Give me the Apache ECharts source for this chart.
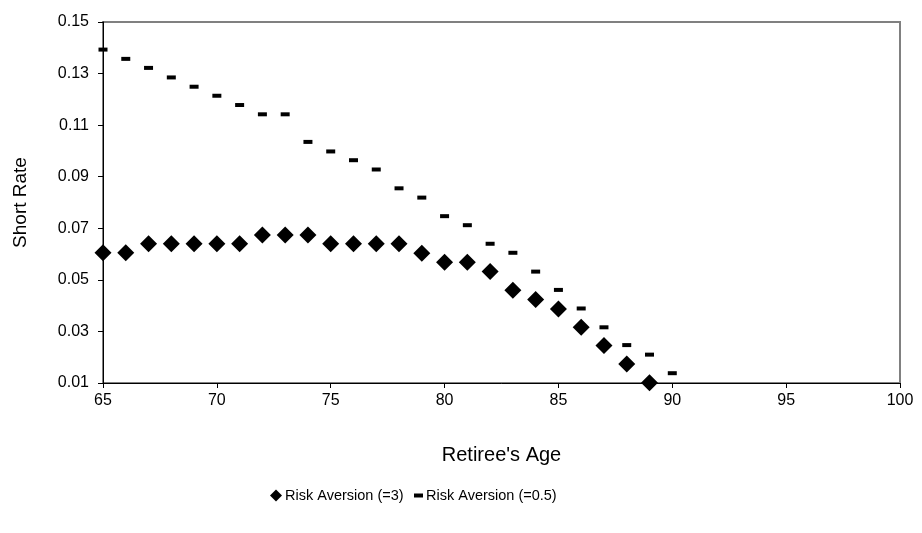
<!DOCTYPE html>
<html>
<head>
<meta charset="utf-8">
<script src="https://cdn.jsdelivr.net/npm/echarts@6/dist/echarts.min.js"></script>
<style>
  html, body { margin: 0; padding: 0; background: #fff; }
  #chart { width: 922px; height: 533px; }
</style>
</head>
<body>
<div id="chart"></div>
<script>
// ages on x axis
var ages = [65, 66, 67, 68, 69, 70, 71, 72, 73, 74, 75, 76, 77, 78, 79, 80, 81, 82, 83, 84, 85, 86, 87, 88, 89, 90];
// risk aversion = 3 (diamonds), ends at 89
var rate3 = [0.0605, 0.0605, 0.064, 0.064, 0.064, 0.064, 0.064, 0.0674, 0.0674, 0.0674, 0.064, 0.064, 0.064, 0.064,
             0.0603, 0.0568, 0.0568, 0.0532, 0.046, 0.0424, 0.0387, 0.0316, 0.0245, 0.0174, 0.0101];
// risk aversion = 0.5 (dashes)
var rate05 = [0.1393, 0.1357, 0.1322, 0.1285, 0.1249, 0.1214, 0.1178, 0.1142, 0.1142, 0.1035, 0.0998, 0.0964, 0.0928,
              0.0855, 0.0819, 0.0747, 0.0712, 0.064, 0.0605, 0.0532, 0.0461, 0.0389, 0.0316, 0.0247, 0.021, 0.0138];
var xTicks = [65, 70, 75, 80, 85, 90, 95, 100];
var yTicks = [0.01, 0.03, 0.05, 0.07, 0.09, 0.11, 0.13, 0.15];

var chartDom = document.getElementById('chart');
var myChart = echarts.init(chartDom);
var option;

var font = 'Liberation Sans, Arial, sans-serif';

function pairs(ys) {
  return ys.map(function (v, i) { return [ages[i], v]; });
}

option = {
  animation: false,
  backgroundColor: '#fff',
  grid: {
    left: 103,
    right: 22,
    top: 22,
    bottom: 150,
    show: true,
    borderColor: '#808080',
    borderWidth: 2
  },
  xAxis: {
    type: 'value',
    min: xTicks[0],
    max: xTicks[xTicks.length - 1],
    interval: 5,
    name: "Retiree's Age",
    nameLocation: 'middle',
    nameGap: 62,
    nameTextStyle: { color: '#000', fontSize: 20, fontFamily: font },
    axisLine: { show: true, lineStyle: { color: '#000', width: 1 } },
    axisTick: { show: true, length: 5, lineStyle: { color: '#000' } },
    axisLabel: { color: '#000', fontSize: 16, fontFamily: font, margin: 10 },
    splitLine: { show: false }
  },
  yAxis: {
    type: 'value',
    min: yTicks[0],
    max: yTicks[yTicks.length - 1],
    interval: 0.02,
    name: 'Short Rate',
    nameLocation: 'middle',
    nameGap: 73,
    nameTextStyle: { color: '#000', fontSize: 19, fontFamily: font },
    axisLine: { show: true, lineStyle: { color: '#000', width: 1 } },
    axisTick: { show: true, length: 5, lineStyle: { color: '#000' } },
    axisLabel: {
      color: '#000', fontSize: 16, fontFamily: font, margin: 14,
      formatter: function (v) { return v.toFixed(2); }
    },
    splitLine: { show: false }
  },
  legend: [
    {
      data: [{ name: 'Risk Aversion (=3)', icon: 'diamond' }],
      left: 265,
      top: 483,
      itemWidth: 12,
      itemHeight: 12,
      itemGap: 4,
      textStyle: { color: '#000', fontSize: 14.5, fontFamily: font, padding: [0, 0, 0, -2] }
    },
    {
      data: [{ name: 'Risk Aversion (=0.5)', icon: 'rect' }],
      left: 409,
      top: 483,
      itemWidth: 9,
      itemHeight: 4,
      itemGap: 4,
      textStyle: { color: '#000', fontSize: 14.5, fontFamily: font, padding: [0, 0, 0, -2] }
    }
  ],
  series: [
    {
      name: 'Risk Aversion (=3)',
      type: 'scatter',
      symbol: 'diamond',
      symbolSize: 17,
      itemStyle: { color: '#000', opacity: 1 },
      data: pairs(rate3)
    },
    {
      name: 'Risk Aversion (=0.5)',
      type: 'scatter',
      symbol: 'rect',
      symbolSize: [9, 4],
      itemStyle: { color: '#000', opacity: 1 },
      data: pairs(rate05)
    }
  ]
};

option && myChart.setOption(option);
</script>
</body>
</html>
